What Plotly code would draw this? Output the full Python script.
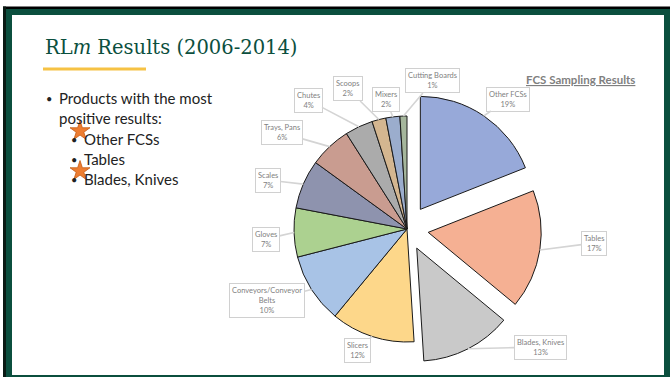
import math
import plotly.graph_objects as go

W, H = 670, 377

# ---------------- data ----------------
labels = ["Other FCSs", "Tables", "Blades, Knives", "Slicers",
          "Conveyors/Conveyor Belts", "Gloves", "Scales", "Trays, Pans",
          "Chutes", "Scoops", "Mixers", "Cutting Boards"]
values = [19, 17, 13, 12, 10, 7, 7, 6, 4, 2, 2, 1]
label_lines = ["Other FCSs", "Tables", "Blades, Knives", "Slicers",
               "Conveyors/Conveyor<br>Belts", "Gloves", "Scales", "Trays, Pans",
               "Chutes", "Scoops", "Mixers", "Cutting Boards"]
bullets = ["Products with the most", "positive results:"]
sub_bullets = ["Other FCSs", "Tables", "Blades, Knives"]
starred = [True, False, True]

# ---------------- styles ----------------
pulls = [0.21, 0.19, 0.19, 0, 0, 0, 0, 0, 0, 0, 0, 0]
colors = ["#97a9d9", "#f5b093", "#c9c9c9", "#fdd78a", "#a8c3e6", "#acd190",
          "#8e93ae", "#c99c90", "#ababab", "#d4b690", "#9badcd", "#a5b69c"]
# label box centres (pixels)
box_pos = [(508, 99), (594, 243), (540, 347), (357, 350), (267, 300), (266, 239),
           (268, 180), (282, 133), (308, 100), (348, 89), (386, 100), (433, 81)]

GREEN = "#0b4f3e"
TEXT = "#222222"
CX, CY, R = 407, 229, 113


def px(x):
    return x / W


def py(y):
    return 1 - y / H


maxpull = max(pulls)
half = R * (1 + maxpull)
dom_x = [px(CX - half), px(CX + half)]
dom_y = [py(CY + half), py(CY - half)]

fig = go.Figure()
fig.add_trace(go.Pie(
    labels=labels, values=values, sort=False, direction="clockwise", rotation=0,
    pull=pulls, textinfo="none", hoverinfo="skip", showlegend=False,
    marker=dict(colors=colors, line=dict(color="#1a1a1a", width=1)),
    domain=dict(x=dom_x, y=dom_y),
))

# stars on the bullet list
sub_y = [139, 159, 179]
sx = [80 for s, f in zip(sub_y, starred) if f]
sy = [s - 8 for s, f in zip(sub_y, starred) if f]
fig.add_trace(go.Scatter(
    x=sx, y=sy, mode="markers", hoverinfo="skip", showlegend=False,
    marker=dict(symbol="star", size=15, color="#ed7d31",
                line=dict(color="#c55a11", width=0.8)),
    xaxis="x", yaxis="y",
))

annotations = []
# pie labels with leader lines
total = sum(values)
cum = 0
for name, v, p, (bx, by) in zip(label_lines, values, pulls, box_pos):
    theta = 2 * math.pi * (cum + v / 2) / total
    cum += v
    ex = CX + (1 + p) * R * math.sin(theta)
    ey = CY - (1 + p) * R * math.cos(theta)
    annotations.append(dict(
        x=px(ex), y=py(ey), xref="paper", yref="paper",
        ax=bx - ex, ay=by - ey, axref="pixel", ayref="pixel",
        text=f"{name}<br>{round(v / total * 100)}%",
        showarrow=True, arrowhead=0, arrowwidth=1.6, arrowcolor="#d4d4d4",
        standoff=0, startstandoff=0,
        font=dict(family="Lato", size=7.5, color="#7f7f7f"),
        bgcolor="white", bordercolor="#d0d0d0", borderwidth=1, borderpad=2,
    ))

# title
annotations.append(dict(
    x=px(43), y=py(47), xref="paper", yref="paper", xanchor="left", yanchor="middle",
    text="RL<i>m</i> Results (2006-2014)", showarrow=False,
    font=dict(family="DejaVu Serif", size=19.5, color=GREEN),
))
# chart title
annotations.append(dict(
    x=px(580), y=py(79), xref="paper", yref="paper", xanchor="center", yanchor="middle",
    text="<u><b>FCS Sampling Results</b></u>", showarrow=False,
    font=dict(family="Lato", size=11.5, color="#7f7f7f"),
))
# bullets
BF = 15
for i, t in enumerate(bullets):
    y = 98 + 20 * i
    if i == 0:
        annotations.append(dict(x=px(44), y=py(y), xref="paper", yref="paper",
                                xanchor="left", yanchor="middle", text="•",
                                showarrow=False,
                                font=dict(family="Lato", size=11, color=TEXT)))
    annotations.append(dict(x=px(57), y=py(y), xref="paper", yref="paper",
                            xanchor="left", yanchor="middle", text=t, showarrow=False,
                            font=dict(family="Lato", size=BF, color=TEXT)))
for t, y in zip(sub_bullets, sub_y):
    annotations.append(dict(x=px(69), y=py(y), xref="paper", yref="paper",
                            xanchor="left", yanchor="middle", text="•",
                            showarrow=False,
                            font=dict(family="Lato", size=11, color=TEXT)))
    annotations.append(dict(x=px(82), y=py(y), xref="paper", yref="paper",
                            xanchor="left", yanchor="middle", text=t, showarrow=False,
                            font=dict(family="Lato", size=BF, color=TEXT)))

# frame shapes (pixel -> paper)
def rect(x0, y0, x1, y1, color):
    return dict(type="rect", xref="paper", yref="paper",
                x0=px(x0), x1=px(x1), y0=py(y1), y1=py(y0),
                fillcolor=color, line=dict(width=0), layer="above")

shapes = [
    rect(3, 6.5, 670, 9, "#000000"),
    rect(3, 6.5, 6, 377, "#0a1a14"),
    rect(6, 9, 670, 15, GREEN),
    rect(6, 9, 12, 377, GREEN),
    rect(664, 9, 670, 377, GREEN),
    rect(6, 375, 670, 377, GREEN),
    rect(43, 67.5, 146, 70.5, "#f6c244"),
]

fig.update_layout(
    width=W, height=H, margin=dict(l=0, r=0, t=0, b=0),
    paper_bgcolor="white", plot_bgcolor="rgba(0,0,0,0)",
    xaxis=dict(range=[0, W], visible=False, fixedrange=True, domain=[0, 1]),
    yaxis=dict(range=[H, 0], visible=False, fixedrange=True, domain=[0, 1]),
    annotations=annotations, shapes=shapes,
)

fig.write_html("out.html", config={"displayModeBar": False})
